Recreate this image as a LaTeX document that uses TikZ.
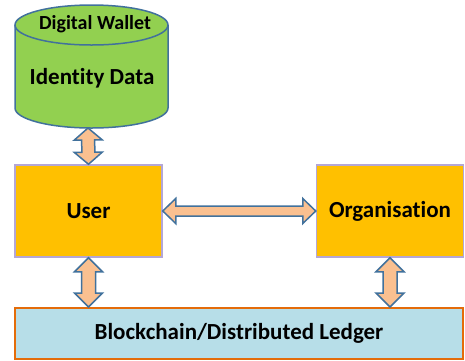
\documentclass[tikz,border=0pt]{standalone}
\usepackage{fontspec}
\setmainfont{Carlito}[Ligatures={NoCommon}]
\usepackage{tikz}
\usetikzlibrary{calc}

\definecolor{cylgreen}{HTML}{92D050}
\definecolor{cylline}{HTML}{41719C}
\definecolor{boxorange}{HTML}{FFC000}
\definecolor{boxline}{HTML}{B4A7D6}
\definecolor{ledgerblue}{HTML}{B7DEE8}
\definecolor{ledgerline}{HTML}{E46C0A}
\definecolor{arrowfill}{HTML}{FAC090}
\definecolor{arrowline}{HTML}{41719C}

\tikzset{
  box/.style={draw=boxline, line width=1.5pt, fill=boxorange, minimum width=147pt, minimum height=92pt, font=\bfseries\fontsize{23}{27}\selectfont},
  ledger/.style={draw=ledgerline, line width=2pt, fill=ledgerblue, minimum width=448pt, minimum height=51pt, font=\bfseries\fontsize{23}{27}\selectfont},
  blockarrow/.style={draw=arrowline, line width=1.5pt, fill=arrowfill, line join=miter}
}

% double block arrow: from, to, shaft half width, head half width, head length
\newcommand{\dblarrow}[5]{%
  \draw[blockarrow] (#1)
    -- ($(#1)!#5!(#2)!#4!90:(#2)$) -- ($(#1)!#5!(#2)!#3!90:(#2)$)
    -- ($(#2)!#5!(#1)!#3!-90:(#1)$) -- ($(#2)!#5!(#1)!#4!-90:(#1)$)
    -- (#2)
    -- ($(#2)!#5!(#1)!#4!90:(#1)$) -- ($(#2)!#5!(#1)!#3!90:(#1)$)
    -- ($(#1)!#5!(#2)!#3!-90:(#2)$) -- ($(#1)!#5!(#2)!#4!-90:(#2)$)
    -- cycle;}

\begin{document}
\begin{tikzpicture}[x=1pt,y=-1pt]
        \useasboundingbox (0,0) rectangle (465,360);
        %WALLET
        \fill[cylgreen] (15,25) -- (15,108) arc[start angle=180, end angle=0, x radius=76.5, y radius=20] -- (168,25) -- cycle;
        \draw[cylline, line width=1.5pt] (15,25) -- (15,108) arc[start angle=180, end angle=0, x radius=76.5, y radius=20] -- (168,25);
        \draw[cylline, line width=1.5pt, fill=cylgreen] (91.5,25) ellipse[x radius=76.5, y radius=20];
        \node[font=\bfseries\fontsize{20}{24}\selectfont] (DW) at (95,24) {Digital Wallet};
        \node[font=\bfseries\fontsize{23}{27}\selectfont] (ID) at (92,78) {Identity Data};
        \coordinate (W) at (88,128);
        %BOXES
        \node[box] (U) at (88.5,211) {User};
        \node[box] (O) at (390,211) {Organisation};
        \node[ledger] (L) at (239,333.5) {Blockchain/Distributed Ledger};
        \coordinate (L1) at (U.south |- L.north);
        \coordinate (L2) at (O.south |- L.north);
        %ARROWS
        \dblarrow{W}{U.north}{6.5pt}{14pt}{12pt}
        \dblarrow{U.east}{O.west}{5pt}{12.5pt}{13pt}
        \dblarrow{U.south}{L1}{7pt}{14pt}{14pt}
        \dblarrow{O.south}{L2}{7pt}{14pt}{14pt}
\end{tikzpicture}
\end{document}
